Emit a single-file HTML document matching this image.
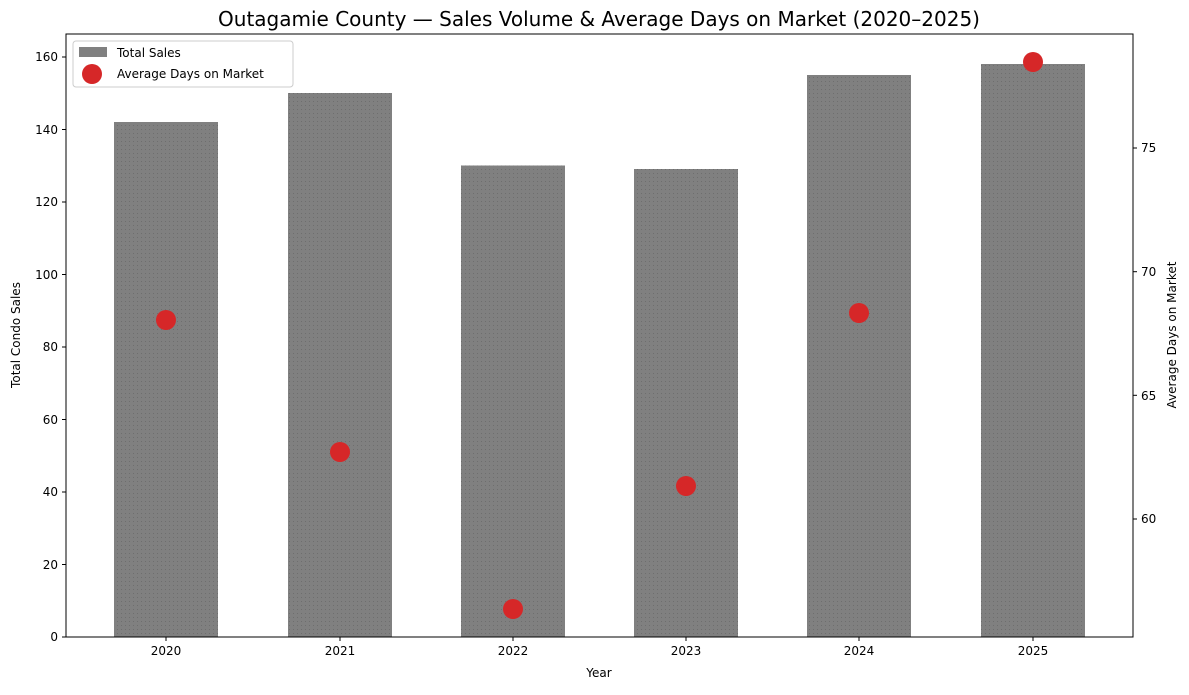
<!DOCTYPE html>
<html><head><meta charset="utf-8"><style>
body{margin:0;background:#fff;}
svg text{font-family:"DejaVu Sans","Liberation Sans",sans-serif;}
</style></head><body>
<svg width="1189" height="690" xmlns="http://www.w3.org/2000/svg">
<defs><pattern id="dots" width="4" height="4" patternUnits="userSpaceOnUse"><rect width="4" height="4" fill="#808080"/><rect x="1" y="1" width="1" height="1" fill="#6e6e6e"/></pattern></defs>
<rect width="1189" height="690" fill="#fff"/>
<text x="599" y="26" font-size="20" text-anchor="middle">Outagamie County — Sales Volume &amp; Average Days on Market (2020–2025)</text>
<g fill="url(#dots)">
<rect x="114" y="122" width="104" height="515"/>
<rect x="288" y="93" width="104" height="544"/>
<rect x="461" y="165.5" width="104" height="471.5"/>
<rect x="634" y="169" width="104" height="468"/>
<rect x="807" y="75" width="104" height="562"/>
<rect x="981" y="64" width="104" height="573"/>
</g>
<g fill="#d62728">
<circle cx="166" cy="320" r="10"/><circle cx="340" cy="452" r="10"/><circle cx="513" cy="609" r="10"/>
<circle cx="686" cy="486" r="10"/><circle cx="859" cy="313" r="10"/><circle cx="1033" cy="62" r="10"/>
</g>
<rect x="66" y="34" width="1067" height="603" fill="none" stroke="#000" stroke-width="1"/>
<g font-size="12" text-anchor="end" stroke="#000">
<line x1="62" x2="66" y1="637" y2="637"/><line x1="62" x2="66" y1="564.5" y2="564.5"/><line x1="62" x2="66" y1="492" y2="492"/><line x1="62" x2="66" y1="419.5" y2="419.5"/><line x1="62" x2="66" y1="347" y2="347"/><line x1="62" x2="66" y1="274.5" y2="274.5"/><line x1="62" x2="66" y1="202" y2="202"/><line x1="62" x2="66" y1="129.5" y2="129.5"/><line x1="62" x2="66" y1="57" y2="57"/>
<line x1="1133" x2="1137" y1="519" y2="519"/><line x1="1133" x2="1137" y1="395.3" y2="395.3"/><line x1="1133" x2="1137" y1="271.7" y2="271.7"/><line x1="1133" x2="1137" y1="148" y2="148"/>
<line y1="637" y2="641" x1="166" x2="166"/><line y1="637" y2="641" x1="340" x2="340"/><line y1="637" y2="641" x1="513" x2="513"/><line y1="637" y2="641" x1="686" x2="686"/><line y1="637" y2="641" x1="859" x2="859"/><line y1="637" y2="641" x1="1033" x2="1033"/>
</g>
<g font-size="12" text-anchor="end">
<text x="58" y="641">0</text><text x="58" y="569">20</text><text x="58" y="496">40</text><text x="58" y="424">60</text><text x="58" y="351">80</text><text x="58" y="279">100</text><text x="58" y="206">120</text><text x="58" y="134">140</text><text x="58" y="61">160</text>
</g>
<g font-size="12">
<text x="1141" y="523">60</text><text x="1141" y="400">65</text><text x="1141" y="276">70</text><text x="1141" y="152">75</text>
</g>
<g font-size="12" text-anchor="middle">
<text x="166" y="655">2020</text><text x="340" y="655">2021</text><text x="513" y="655">2022</text><text x="686" y="655">2023</text><text x="859" y="655">2024</text><text x="1033" y="655">2025</text>
<text x="599" y="677">Year</text>
<text transform="translate(20,335) rotate(-90)">Total Condo Sales</text>
<text transform="translate(1176,335) rotate(-90)">Average Days on Market</text>
</g>
<rect x="73" y="41" width="220" height="46" rx="3" fill="#fff" fill-opacity="0.8" stroke="#ccc"/>
<rect x="79" y="47" width="28" height="10" fill="#808080"/>
<text x="117" y="57" font-size="12">Total Sales</text>
<circle cx="92" cy="74" r="10" fill="#d62728"/>
<text x="117" y="78" font-size="12">Average Days on Market</text>
</svg>
</body></html>
